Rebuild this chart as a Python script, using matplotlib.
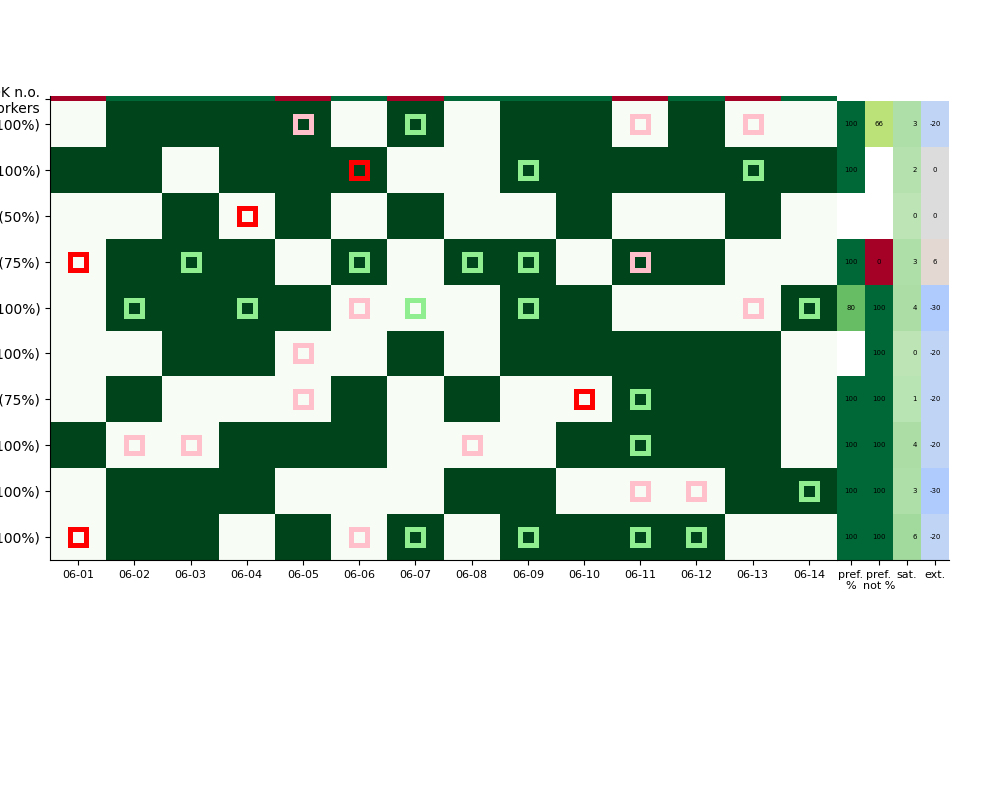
import numpy as np
import matplotlib
matplotlib.use("Agg")
import matplotlib.pyplot as plt

dates = ["06-01", "06-02", "06-03", "06-04", "06-05", "06-06", "06-07",
         "06-08", "06-09", "06-10", "06-11", "06-12", "06-13", "06-14"]
workers = ["Worker 01 (100%)", "Worker 02 (100%)", "Worker 03 (50%)",
           "Worker 04 (75%)", "Worker 05 (100%)", "Worker 06 (100%)",
           "Worker 07 (75%)", "Worker 08 (100%)", "Worker 09 (100%)",
           "Worker 10 (100%)"]
top_label = "OK n.o.\nworkers"

# 1 = scheduled, 0 = free
schedule = [
    [0, 1, 1, 1, 1, 0, 1, 0, 1, 1, 0, 1, 0, 0],
    [1, 1, 0, 1, 1, 1, 0, 0, 1, 1, 1, 1, 1, 1],
    [0, 0, 1, 0, 1, 0, 1, 0, 0, 1, 0, 0, 1, 0],
    [0, 1, 1, 1, 0, 1, 0, 1, 1, 0, 1, 1, 0, 0],
    [0, 1, 1, 1, 1, 0, 0, 0, 1, 1, 0, 0, 0, 1],
    [0, 0, 1, 1, 0, 0, 1, 0, 1, 1, 1, 1, 1, 0],
    [0, 1, 0, 0, 0, 1, 0, 1, 0, 0, 1, 1, 1, 0],
    [1, 0, 0, 1, 1, 1, 0, 0, 0, 1, 1, 1, 1, 0],
    [0, 1, 1, 1, 0, 0, 0, 1, 1, 0, 0, 0, 1, 1],
    [0, 1, 1, 0, 1, 0, 1, 0, 1, 1, 1, 1, 0, 0],
]
# 1 = enough workers that day, 0 = not
day_ok = [0, 1, 1, 1, 0, 1, 0, 1, 1, 1, 0, 1, 0, 1]

# (row, col) markers
red_marks = [(1, 5), (2, 3), (3, 0), (6, 9), (9, 0)]
green_marks = [(0, 6), (1, 8), (1, 12), (3, 2), (3, 5), (3, 7), (3, 8),
               (4, 1), (4, 3), (4, 6), (4, 8), (4, 13), (6, 10), (7, 10),
               (8, 13), (9, 6), (9, 8), (9, 10), (9, 11)]
pink_marks = [(0, 4), (0, 10), (0, 12), (3, 10), (4, 5), (4, 12), (5, 4),
              (6, 4), (7, 1), (7, 2), (7, 7), (8, 10), (8, 11), (9, 5)]

extra_labels = ["pref.\n%", "pref.\nnot %", "sat.", "ext."]
pref_pct = [100, 100, np.nan, 100, 80, np.nan, 100, 100, 100, 100]
pref_not_pct = [66, np.nan, np.nan, 0, 100, 100, 100, 100, 100, 100]
sat = [3, 2, 0, 3, 4, 0, 1, 4, 3, 6]
ext = [-20, 0, 0, 6, -30, -20, -20, -20, -30, -20]

strip_h = 0.11

fig = plt.figure(figsize=(10, 8), dpi=100)
ax = fig.add_axes([0.05, 0.30, 0.787, 0.58])

nrows, ncols = len(workers), len(dates)
xe = np.arange(ncols + 1)
ye = np.arange(nrows + 1)
ax.pcolormesh(xe, ye, np.array(schedule), cmap="Greens", vmin=0, vmax=1)
ax.pcolormesh(xe, [-strip_h, 0], np.array([day_ok]), cmap="RdYlGn",
              vmin=0, vmax=1)

for marks, col in [(red_marks, "#ff0000"), (green_marks, "#90ee90"),
                   (pink_marks, "#ffc0cb")]:
    rr = np.array([m[0] for m in marks]) + 0.5
    cc = np.array([m[1] for m in marks]) + 0.5
    ax.plot(cc, rr, ls="none", marker="s", markersize=11,
            markerfacecolor="none", markeredgecolor=col, markeredgewidth=3.6)

ax.set_xlim(0, ncols)
ax.set_ylim(nrows, -strip_h)
ax.set_xticks(np.arange(ncols) + 0.5)
ax.set_xticklabels(dates, fontsize=8)
ax.set_yticks([-strip_h / 2] + list(np.arange(nrows) + 0.5))
ax.set_yticklabels([top_label] + workers, fontsize=10)
for s in ["top", "right"]:
    ax.spines[s].set_visible(False)

# extra columns
ax2 = fig.add_axes([0.837, 0.30, 0.112, 0.57375])
cols = [(pref_pct, "RdYlGn", 0, 100), (pref_not_pct, "RdYlGn", 0, 100),
        (sat, "Greens", -20, 50), (ext, "coolwarm", -100, 100)]
for j, (vals, cmap, vmin, vmax) in enumerate(cols):
    arr = np.ma.masked_invalid(np.array(vals, dtype=float)).reshape(-1, 1)
    ax2.pcolormesh([j, j + 1], ye, arr, cmap=cmap, vmin=vmin, vmax=vmax)
    for i, v in enumerate(vals):
        if np.isnan(v):
            continue
        xo = 0.78 if j == 2 else 0.5
        ax2.text(j + xo, i + 0.5, f"{int(v)}", ha="center", va="center",
                 fontsize=5, color="black")
ax2.set_xlim(0, 4)
ax2.set_ylim(nrows, 0)
ax2.set_xticks(np.arange(4) + 0.5)
ax2.set_xticklabels(extra_labels, fontsize=8)
ax2.set_yticks([])
for s in ["top", "right", "left"]:
    ax2.spines[s].set_visible(False)

fig.savefig("out.png", dpi=100)
